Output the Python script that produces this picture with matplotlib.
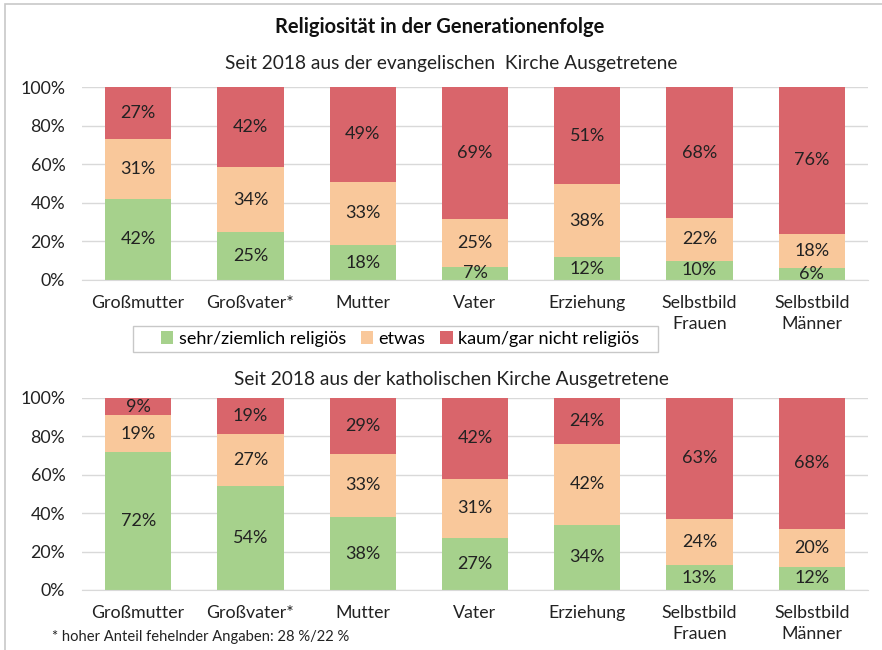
import matplotlib
matplotlib.use('Agg')
import matplotlib.pyplot as plt
import numpy as np
from matplotlib.patches import Patch, Rectangle

plt.rcParams['font.family'] = ['Lato', 'DejaVu Sans']

categories = ['Großmutter', 'Großvater*', 'Mutter', 'Vater', 'Erziehung',
              'Selbstbild\nFrauen', 'Selbstbild\nMänner']
series_names = ['sehr/ziemlich religiös', 'etwas', 'kaum/gar nicht religiös']
colors = ['#A6D18C', '#F9C89B', '#D9656B']

# evangelisch
ev_sehr = [42, 25, 18, 7, 12, 10, 6]
ev_etwas = [31, 34, 33, 25, 38, 22, 18]
ev_kaum = [27, 42, 49, 69, 51, 68, 76]

# katholisch
ka_sehr = [72, 54, 38, 27, 34, 13, 12]
ka_etwas = [19, 27, 33, 31, 42, 24, 20]
ka_kaum = [9, 19, 29, 42, 24, 63, 68]

yticks = [0, 20, 40, 60, 80, 100]

W, H = 882, 650
fig = plt.figure(figsize=(W / 100, H / 100), dpi=100, facecolor='white')

# frame of the chart area
fig.add_artist(Rectangle((5 / W, -0.05), 1.0, 1 - 4 / H + 0.05, transform=fig.transFigure,
                         fill=False, edgecolor='#C8C8C8', linewidth=1.2))


def ax_rect(x0, y0, x1, y1):
    return [x0 / W, 1 - y1 / H, (x1 - x0) / W, (y1 - y0) / H]


def draw_panel(ax, data):
    x = np.arange(len(categories))
    totals = np.sum(data, axis=0)
    bottom = np.zeros(len(categories))
    for vals, col in zip(data, colors):
        vals = np.array(vals, dtype=float)
        h = vals / totals * 100
        ax.bar(x, h, bottom=bottom, width=0.59, color=col, zorder=2)
        for xi, b, hi, v in zip(x, bottom, h, vals):
            ax.text(xi, b + hi / 2, f'{int(v)}%', ha='center', va='center',
                    fontsize=13, color='#222222', zorder=3)
        bottom += h
    ax.set_xlim(-0.5, len(categories) - 0.5)
    ax.set_ylim(0, 100)
    ax.set_yticks(yticks)
    ax.set_yticklabels([f'{t}%' for t in yticks])
    ax.set_xticks(x)
    ax.set_xticklabels(categories, linespacing=1.35)
    ax.tick_params(axis='both', length=0, labelsize=12.8, colors='#222222')
    ax.tick_params(axis='y', pad=12)
    ax.tick_params(axis='x', pad=11)
    ax.yaxis.grid(True, color='#D9D9D9', linewidth=1, zorder=0)
    for s in ['top', 'right', 'left']:
        ax.spines[s].set_visible(False)
    ax.spines['bottom'].set_color('#D9D9D9')
    ax.set_axisbelow(True)


ax1 = fig.add_axes(ax_rect(82, 87, 868, 280))
draw_panel(ax1, [ev_sehr, ev_etwas, ev_kaum])
ax2 = fig.add_axes(ax_rect(82, 398, 868, 590))
draw_panel(ax2, [ka_sehr, ka_etwas, ka_kaum])

fig.text(440 / W, 1 - 27 / H, 'Religiosität in der Generationenfolge', ha='center', va='center',
         fontsize=14.5, fontweight='bold', color='#111111')
fig.text(451 / W, 1 - 63 / H, 'Seit 2018 aus der evangelischen  Kirche Ausgetretene', ha='center',
         va='center', fontsize=13.8, color='#222222')
fig.text(451 / W, 1 - 380 / H, 'Seit 2018 aus der katholischen Kirche Ausgetretene', ha='center',
         va='center', fontsize=13.8, color='#222222')

# legend box drawn separately to match its wide padding
fig.add_artist(Rectangle((133 / W, 1 - 352 / H), (658 - 133) / W, 26 / H, transform=fig.transFigure,
                         fill=False, edgecolor='#C8C8C8', linewidth=1))
handles = [Patch(facecolor=c, edgecolor='none') for c in colors]
fig.legend(handles, series_names, loc='center', bbox_to_anchor=(400 / W, 1 - 339 / H), ncol=3,
           fontsize=13, frameon=False,
           handlelength=0.7, handleheight=0.7, handletextpad=0.3, columnspacing=0.8,
           borderpad=0.3)

fig.text(52 / W, 1 - 637 / H, '* hoher Anteil fehelnder Angaben: 28 %/22 %', ha='left', va='center',
         fontsize=10.6, color='#222222')

fig.savefig('out.png', dpi=100, facecolor='white')
